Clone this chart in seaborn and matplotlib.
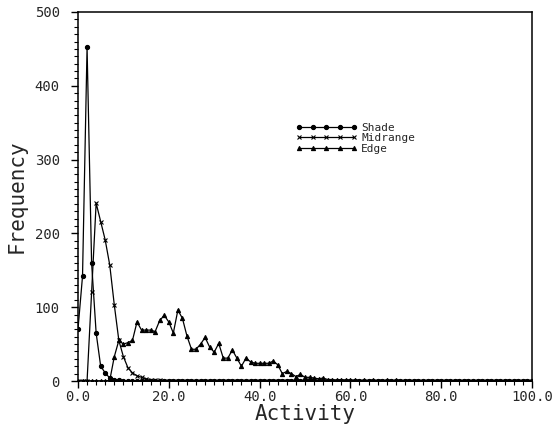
import numpy as np
import pandas as pd
import matplotlib
matplotlib.use("Agg")
import matplotlib.pyplot as plt
from matplotlib.ticker import MultipleLocator, FormatStrFormatter
import seaborn as sns

# histogram bins of width 1, activity 0..100
activity = list(range(101))

shade_head = [70, 142, 452, 160, 65, 20, 11, 4, 2, 1]
midrange_head = [0, 0, 0, 120, 241, 216, 191, 157, 103, 55, 33, 18, 11, 7, 5,
                 3, 2, 1, 1]
edge_head = [0, 0, 0, 0, 0, 0, 0, 1, 33, 55, 50, 52, 55, 80, 69, 69, 69, 67,
             82, 89, 80, 65, 96, 85, 61, 43, 43, 50, 59, 46, 39, 51, 31, 31,
             42, 31, 20, 31, 26, 24, 24, 24, 24, 27, 22, 10, 13, 10, 6, 9, 5,
             5, 4, 3, 4, 2, 2, 1, 2, 1, 1, 1, 0, 1, 0, 1, 0, 0, 1, 0, 1]

shade = shade_head + [0] * (101 - len(shade_head))
midrange = midrange_head + [0] * (101 - len(midrange_head))
edge = edge_head + [0] * (101 - len(edge_head))

sns.set_style("ticks")
plt.rcParams["font.family"] = ["DejaVu Sans Mono", "DejaVu Sans"]

fig = plt.figure(figsize=(5.59, 4.28), dpi=100)
ax = fig.add_axes([0.1395, 0.1098, 0.8122, 0.8622])

series = [("Shade", shade, "o"), ("Midrange", midrange, "x"), ("Edge", edge, "^")]
for name, vals, mk in series:
    sns.lineplot(x=activity, y=vals, ax=ax, color="black", linewidth=0.9,
                 marker=mk, markersize=3, markeredgewidth=0.8,
                 markeredgecolor="black", markerfacecolor="black", label=name)

ax.set_xlim(0, 100)
ax.set_ylim(0, 500)
ax.xaxis.set_major_locator(MultipleLocator(20))
ax.xaxis.set_minor_locator(MultipleLocator(2))
ax.yaxis.set_major_locator(MultipleLocator(100))
ax.yaxis.set_minor_locator(MultipleLocator(10))
ax.xaxis.set_major_formatter(FormatStrFormatter("%.1f"))
ax.yaxis.set_major_formatter(FormatStrFormatter("%d"))
ax.tick_params(which="major", length=5, width=1, labelsize=10, color="black")
ax.tick_params(axis="x", which="major", pad=1.5)
ax.tick_params(axis="y", which="major", pad=8)
ax.tick_params(which="minor", length=3, width=0.8, color="black")
for s in ax.spines.values():
    s.set_linewidth(1.1)
    s.set_color("black")

ax.set_xlabel("Activity", fontsize=15, labelpad=0)
ax.set_ylabel("Frequency", fontsize=15, labelpad=6)

ax.legend(loc="upper left", bbox_to_anchor=(0.47, 0.712), frameon=False,
          numpoints=5, handlelength=5.5, handletextpad=0.4, labelspacing=0.05,
          fontsize=8, borderaxespad=0)

fig.savefig("out.png", dpi=100)
